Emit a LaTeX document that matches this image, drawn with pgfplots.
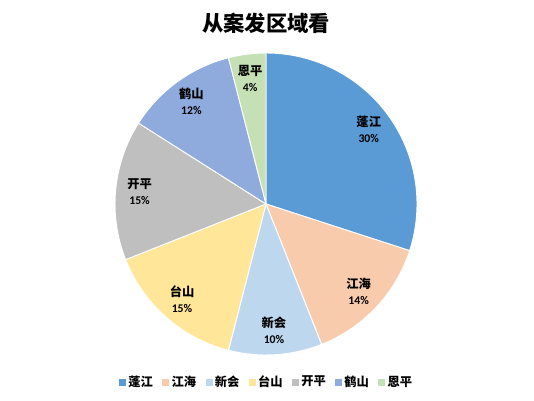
\documentclass[border=0pt]{standalone}
\usepackage{pgfplots}
\pgfplotsset{compat=1.18}
\usepackage{pgfplotstable}
\usepackage{fontspec}
\setmainfont{Carlito}
\newfontfamily\cjk{Noto Sans CJK SC}

\definecolor{c1}{HTML}{5B9BD5}
\definecolor{c2}{HTML}{F8CBAD}
\definecolor{c3}{HTML}{BDD7EE}
\definecolor{c4}{HTML}{FFE699}
\definecolor{c5}{HTML}{BFBFBF}
\definecolor{c6}{HTML}{8FAADC}
\definecolor{c7}{HTML}{C5E0B4}

% share of cases by district (percent)
\pgfplotstableread[col sep=comma]{
name,value,color
蓬江,30,c1
江海,14,c2
新会,10,c3
台山,15,c4
开平,15,c5
鹤山,12,c6
恩平,4,c7
}\piedata

\newcommand\namefont{\cjk\bfseries\fontsize{9.2}{8.8}\selectfont}
\newcommand\pctfont{\bfseries\fontsize{8.8}{8.8}\selectfont}

\begin{document}
\begin{tikzpicture}
\begin{axis}[
    x=0.75pt, y=0.75pt,
    xmin=0, xmax=534, ymin=0, ymax=400,
    hide axis, clip=false,
    legend style={at={(axis cs:267,18)}, anchor=center, draw=none,
        font=\cjk\bfseries\fontsize{9.2}{10}\selectfont,
        legend columns=-1,
        /tikz/every even column/.append style={column sep=5pt},
        /tikz/every odd column/.append style={column sep=0pt},
        inner sep=0pt},
    legend image code/.code={\fill[#1] (0pt,-2.4pt) rectangle (4.6pt,2.2pt);},
]
    \path (axis cs:0,0) rectangle (axis cs:534,400);

    % title
    \node[font=\cjk\bfseries\fontsize{16}{18}\selectfont] at (axis cs:266,377) {从案发区域看};

    % wedges, clockwise from 12 o'clock
    \pgfplotstablegetrowsof{\piedata}
    \pgfmathtruncatemacro\nrows{\pgfplotsretval-1}
    \def\angA{90}
    \pgfplotsforeachungrouped \i in {0,...,\nrows}{
        \pgfplotstablegetelem{\i}{value}\of\piedata \let\val\pgfplotsretval
        \pgfplotstablegetelem{\i}{color}\of\piedata \let\clr\pgfplotsretval
        \pgfplotstablegetelem{\i}{name}\of\piedata \let\nm\pgfplotsretval
        \pgfmathsetmacro\angB{\angA-3.6*\val}
        \pgfmathsetmacro\angM{(\angA+\angB)/2}
        \edef\doit{%
            \noexpand\fill[\clr, draw=white, line width=0.7pt]
                (axis cs:266,196) -- ++(\angA:113.25pt)
                arc[start angle=\angA, end angle=\angB, radius=113.25pt] -- cycle;
            \noexpand\path (axis cs:266,196) ++(\angM:95.25pt)
                node[align=center, inner sep=0pt]
                {{\noexpand\namefont\nm}\noexpand\\{\noexpand\pctfont\val\%}};
        }\doit
        \let\angA\angB
    }

    % legend
    \addlegendimage{c1}\addlegendentry{蓬江}
    \addlegendimage{c2}\addlegendentry{江海}
    \addlegendimage{c3}\addlegendentry{新会}
    \addlegendimage{c4}\addlegendentry{台山}
    \addlegendimage{c5}\addlegendentry{开平}
    \addlegendimage{c6}\addlegendentry{鹤山}
    \addlegendimage{c7}\addlegendentry{恩平}
\end{axis}
\end{tikzpicture}
\end{document}
